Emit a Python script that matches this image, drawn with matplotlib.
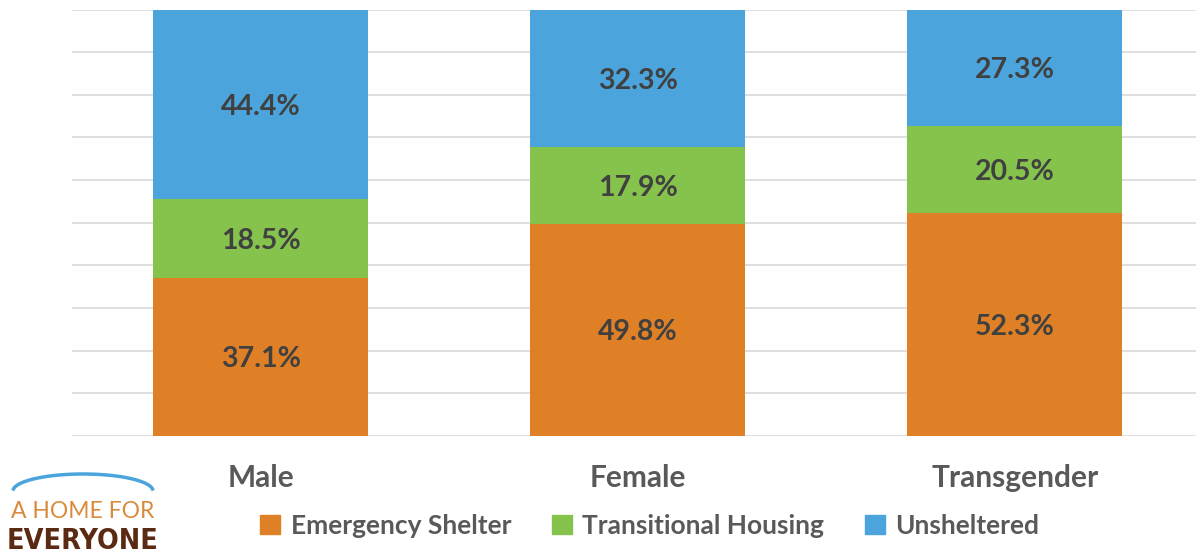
import matplotlib.pyplot as plt
import matplotlib.patches as mpatches
import numpy as np

# data
categories = ["Male", "Female", "Transgender"]
emergency = [37.1, 49.8, 52.3]
transitional = [18.5, 17.9, 20.5]
unsheltered = [44.4, 32.3, 27.3]
series_names = ["Emergency Shelter", "Transitional Housing", "Unsheltered"]
colors = ["#E08026", "#86C34C", "#4BA5DC"]

plt.rcParams['font.family'] = ['Lato', 'DejaVu Sans']

fig = plt.figure(figsize=(11.96, 5.59), dpi=100)
ax = fig.add_axes([72 / 1196, 1 - 436 / 559, 1 - 72 / 1196, (436 - 9.5) / 559])

x = np.arange(len(categories))
bottom = np.zeros(len(categories))
for vals, name, col in zip([emergency, transitional, unsheltered], series_names, colors):
    ax.bar(x, vals, 0.57, bottom=bottom, color=col, label=name, zorder=2)
    for xi, b, v in zip(x, bottom, vals):
        ax.text(xi, b + v / 2 - 0.6, f"{v:.1f}%", ha='center', va='center',
                fontsize=20.5, fontweight='bold', color='#404040', zorder=3)
    bottom += np.array(vals)

ax.set_xlim(-0.5, 2.48)
ax.set_ylim(0, 100)
ax.set_yticks(np.arange(0, 101, 10))
ax.yaxis.grid(True, color='#D9D9D9', linewidth=1.2, zorder=0)
ax.set_yticklabels([])
ax.tick_params(left=False, bottom=False)
for s in ax.spines.values():
    s.set_visible(False)
ax.set_xticks(x)
ax.set_xticklabels(categories, fontsize=21.5, fontweight='bold', color='#595959')
ax.tick_params(axis='x', pad=17)

# legend
handles = [mpatches.Patch(color=c, label=n) for n, c in zip(series_names, colors)]
fig.legend(handles=handles, loc='center', bbox_to_anchor=(650 / 1196, 1 - 526 / 559),
           ncol=3, frameon=False, handlelength=0.75, handleheight=0.75,
           handletextpad=0.4, columnspacing=1.55,
           prop={'family': ['Lato', 'DejaVu Sans'], 'weight': 'bold', 'size': 19},
           labelcolor='#595959')

# logo
logo = fig.add_axes([0, 0, 170 / 1196, 100 / 559])
logo.set_xlim(0, 170)
logo.set_ylim(100, 0)
logo.axis('off')
t = np.linspace(0.12, np.pi - 0.12, 100)
logo.plot(83 + 70 * np.cos(t), 32 - 17 * np.sin(t), color='#4BA5DC', linewidth=2.5)
logo.text(83, 52, "A HOME FOR", ha='center', va='center', fontsize=16.5,
          color='#D98A3A', family=['Lato', 'DejaVu Sans'])
logo.text(83, 82, "EVERYONE", ha='center', va='center', fontsize=20.5, fontweight='bold',
          color='#5A2A12', fontstretch='condensed',
          family=['Liberation Sans Narrow', 'DejaVu Sans'])

fig.savefig("out.png", dpi=100)
